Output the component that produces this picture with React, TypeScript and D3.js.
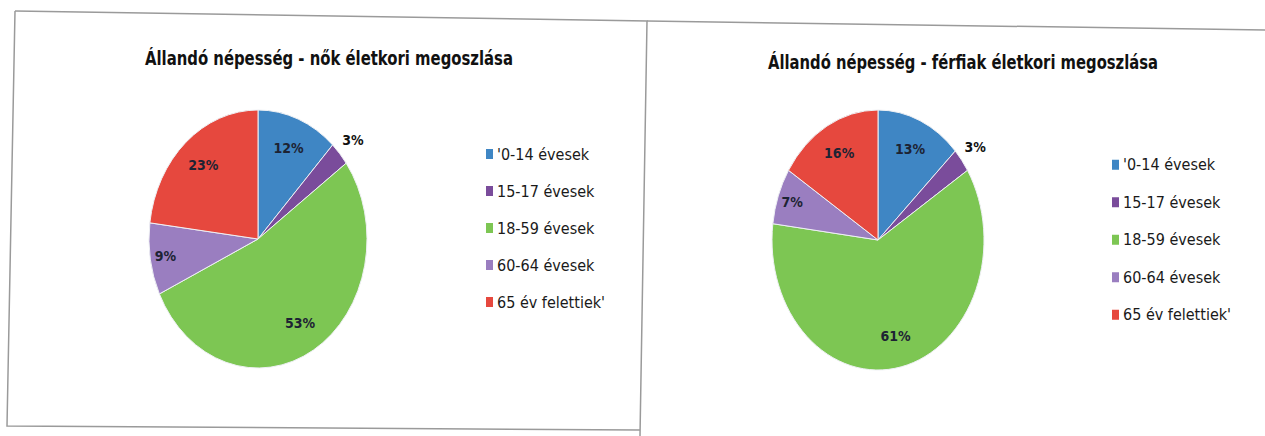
import React from "react";
import * as d3 from "d3";

const categories = ["'0-14 évesek", "15-17 évesek", "18-59 évesek", "60-64 évesek", "65 év felettiek'"];
const womenValues = [12, 3, 53, 9, 23];
const menValues = [13, 3, 61, 7, 16];
const womenTitle = "Állandó népesség - nők életkori megoszlása";
const menTitle = "Állandó népesség - férfiak életkori megoszlása";
const colors = ["#3F86C4", "#7A4C9B", "#7DC653", "#9A7EC0", "#E6483E"];

const FONT = "'DejaVu Sans Condensed', 'DejaVu Sans', 'Open Sans', sans-serif";

type PanelProps = {
  values: number[];
  title: string;
  titleWidth: number;
  cx: number;
  cy: number;
  rx: number;
  ry: number;
  titleX: number;
  titleY: number;
  legendX: number;
  legendY: number;
  legendStep: number;
};

function PiePanel({ values, title, titleWidth, cx, cy, rx, ry, titleX, titleY, legendX, legendY, legendStep }: PanelProps) {
  const pie = d3.pie<number>().sort(null).value((d) => d);
  const arcs = pie(values);
  const arc = d3.arc<d3.PieArcDatum<number>>().innerRadius(0).outerRadius(rx);
  const total = d3.sum(values);
  const legendScale = d3.scaleBand<string>().domain(categories).range([legendY, legendY + legendStep * categories.length]);
  return (
    <g>
      <text
        x={titleX}
        y={titleY}
        textAnchor="middle"
        fontFamily={FONT}
        fontWeight="bold"
        fontSize={19}
        fill="#111"
        textLength={titleWidth}
        lengthAdjust="spacingAndGlyphs"
      >
        {title}
      </text>
      <g transform={`translate(${cx},${cy}) scale(1,${ry / rx})`}>
        {arcs.map((a, i) => (
          <path key={i} d={arc(a) || ""} fill={colors[i]} stroke="#eef0f4" strokeWidth={1} vectorEffect="non-scaling-stroke" />
        ))}
      </g>
      {arcs.map((a, i) => {
        const mid = (a.startAngle + a.endAngle) / 2;
        const pct = (a.value / total) * 100;
        const k = pct < 5 ? 1.16 : pct < 10 ? 0.86 : 0.76;
        const x = cx + k * rx * Math.sin(mid);
        const y = cy - k * ry * Math.cos(mid);
        return (
          <text key={i} x={x} y={y} dy="0.35em" textAnchor="middle" fontFamily={FONT} fontWeight="bold" fontSize={14} fill={pct < 5 ? "#111" : "#1d2333"}>
            {`${Math.round(pct)}%`}
          </text>
        );
      })}
      {categories.map((c, i) => {
        const y = (legendScale(c) || 0) + legendScale.bandwidth() / 2;
        return (
          <g key={c}>
            <rect x={legendX} y={y - 5} width={7} height={10} fill={colors[i]} />
            <text x={legendX + 11} y={y} dy="0.35em" fontFamily={FONT} fontSize={16} fill="#1a1a1a">
              {c}
            </text>
          </g>
        );
      })}
    </g>
  );
}

export default function App() {
  return (
    <svg width={1265} height={436} style={{ position: "absolute", left: 0, top: 0, background: "#fff" }}>
      <rect x={0} y={0} width={1265} height={436} fill="#ffffff" />
      {/* frame lines of the scanned panels */}
      <path d="M15,11 L647,21 L640,436" fill="none" stroke="#9a9a9a" strokeWidth={1.5} />
      <path d="M15,11 L7,426 L640,430" fill="none" stroke="#9a9a9a" strokeWidth={1.5} />
      <path d="M647,21 L1265,30" fill="none" stroke="#9a9a9a" strokeWidth={1.5} />
      <PiePanel
        values={womenValues}
        title={womenTitle}
        titleWidth={368}
        cx={258}
        cy={239}
        rx={109}
        ry={129}
        titleX={329}
        titleY={65}
        legendX={486}
        legendY={135.5}
        legendStep={37}
      />
      <PiePanel
        values={menValues}
        title={menTitle}
        titleWidth={390}
        cx={878}
        cy={240}
        rx={106}
        ry={130}
        titleX={963}
        titleY={69}
        legendX={1112}
        legendY={146}
        legendStep={37.5}
      />
    </svg>
  );
}
